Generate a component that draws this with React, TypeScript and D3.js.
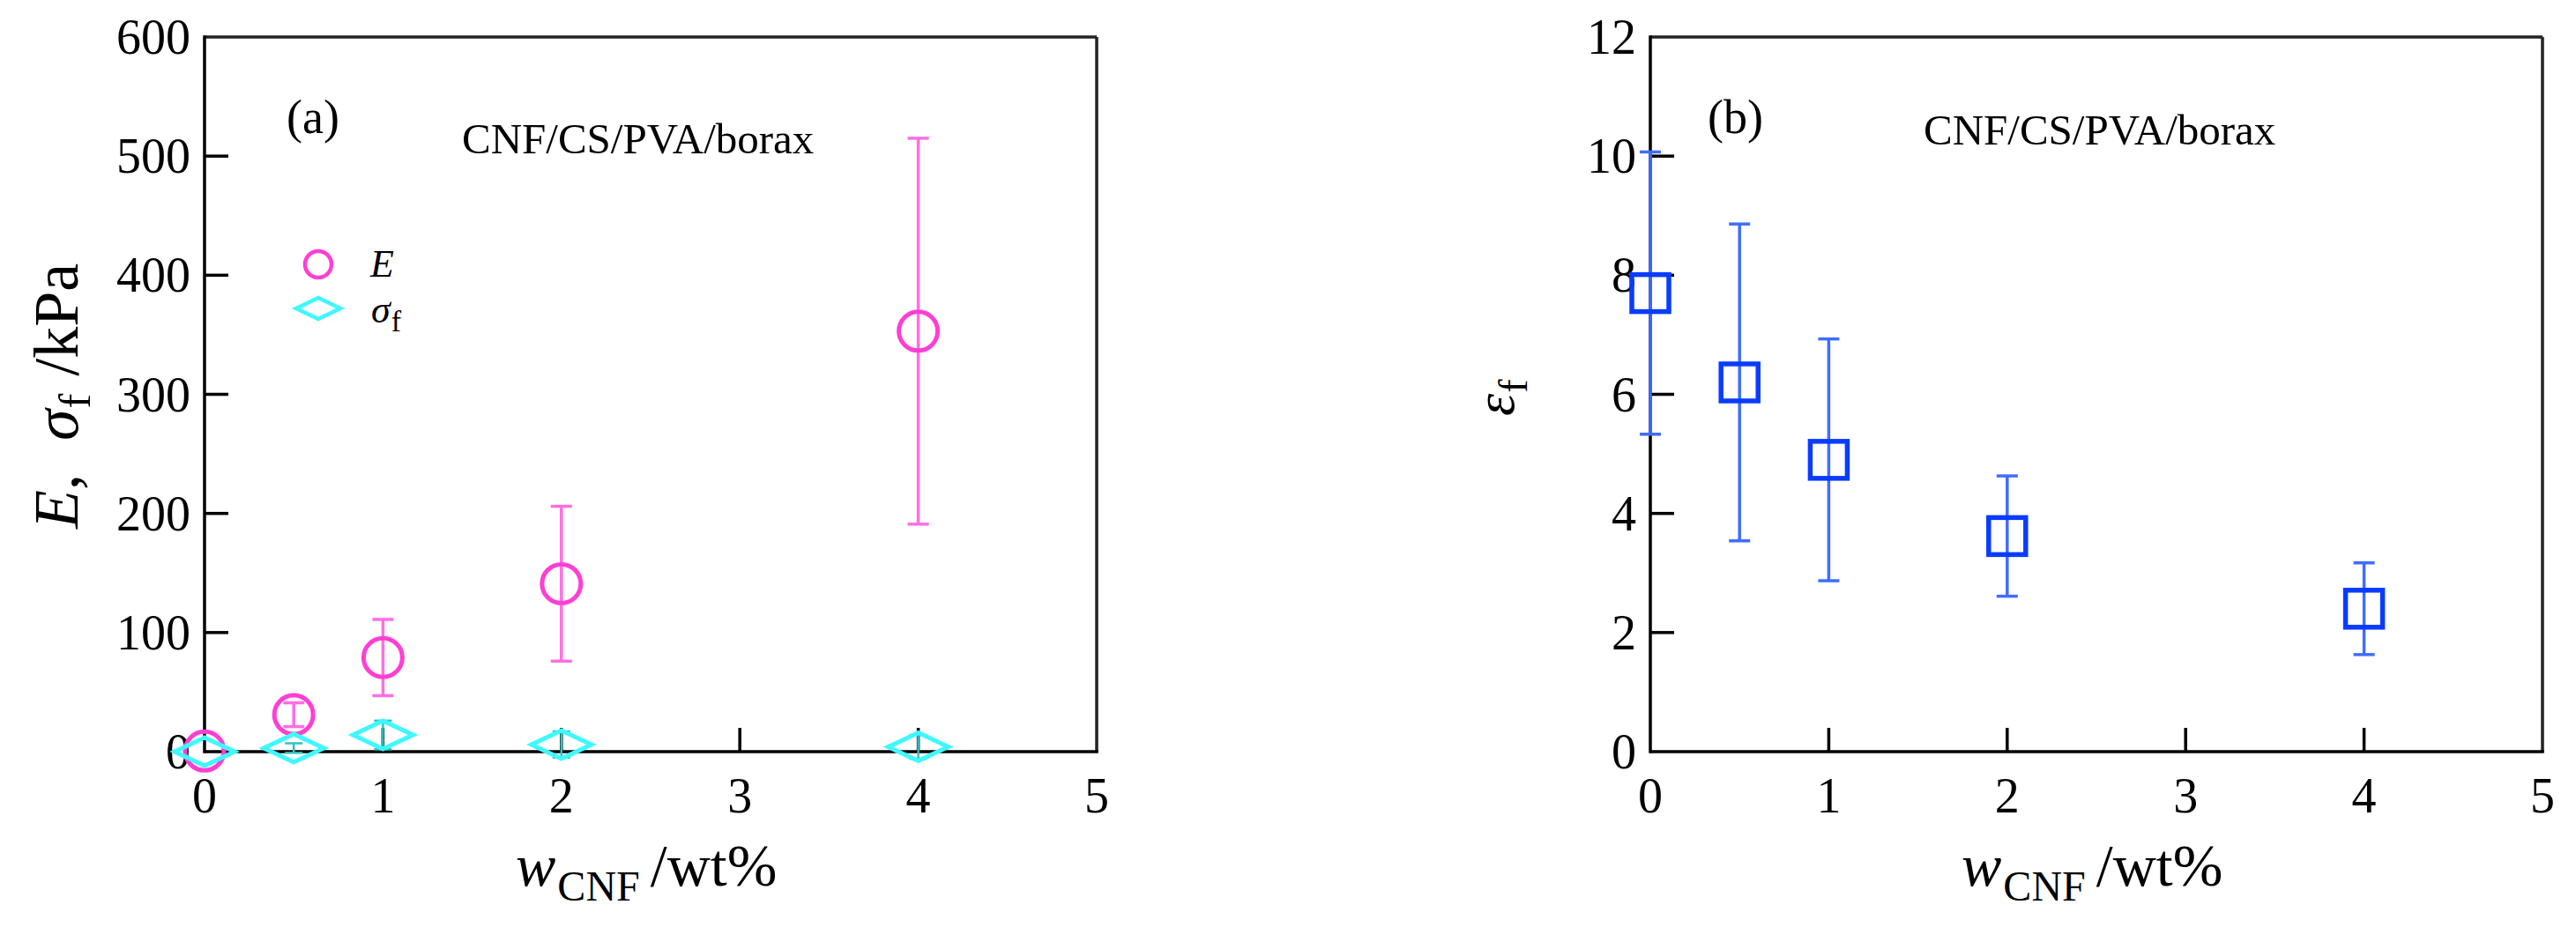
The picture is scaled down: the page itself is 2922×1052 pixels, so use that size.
import React from 'react';
import * as d3 from 'd3';

// ---------- data ----------
const wCNF = [0, 0.5, 1, 2, 4];
const E_kPa = [0.5, 31, 79, 141, 353];
const E_err = [0, 10, 32, 65, 162];
const sigmaF_kPa = [0, 3, 14, 6, 4];
const sigmaF_err = [0, 4, 12, 11, 10];
const epsF = [7.7, 6.2, 4.9, 3.62, 2.4];
const epsF_err = [2.37, 2.66, 2.03, 1.01, 0.77];
const xTicks = [0, 1, 2, 3, 4, 5];
const yTicksA = [0, 100, 200, 300, 400, 500, 600];
const yTicksB = [0, 2, 4, 6, 8, 10, 12];

// ---------- style ----------
const FONT = "'Liberation Serif', 'Times New Roman', serif";
const W = 2922;
const H = 1052;
const TOP = 42;
const BOTTOM = 853;
const C_E = '#ff3fd4';
const C_E_BAR = '#ff6ee2';
const C_S = '#3ff8ff';
const C_S_BAR = '#2cc4c4';
const C_B = '#0a3cff';
const C_B_BAR = '#3f6dff';

type Scale = d3.ScaleLinear<number, number>;

function Axes({ xs, ys, yTicks }: { xs: Scale; ys: Scale; yTicks: number[] }) {
  const [x0, x1] = xs.range();
  const yMin = yTicks[0];
  const yMax = yTicks[yTicks.length - 1];
  return (
    <g>
      <line x1={x0} x2={x1} y1={ys(yMax)} y2={ys(yMax)} stroke="#222" strokeWidth={3.5} />
      <line x1={x1} x2={x1} y1={ys(yMax)} y2={ys(yMin)} stroke="#222" strokeWidth={3.5} />
      <line x1={x0} x2={x0} y1={ys(yMax) - 1.75} y2={ys(yMin) + 1.75} stroke="#000" strokeWidth={3.5} />
      <line x1={x0} x2={x1 + 1.75} y1={ys(yMin)} y2={ys(yMin)} stroke="#000" strokeWidth={3.5} />
      {xTicks
        .filter((t) => t > xTicks[0] && t < xTicks[xTicks.length - 1])
        .map((t) => (
          <line key={'xt' + t} x1={xs(t)} x2={xs(t)} y1={ys(yMin)} y2={ys(yMin) - 27} stroke="#000" strokeWidth={3.5} />
        ))}
      {yTicks
        .filter((t) => t > yMin && t < yMax)
        .map((t) => (
          <line key={'yt' + t} x1={x0} x2={x0 + 27} y1={ys(t)} y2={ys(t)} stroke="#000" strokeWidth={3.5} />
        ))}
      {xTicks.map((t) => (
        <text key={'xl' + t} x={xs(t)} y={922} textAnchor="middle" fontSize={56} fontFamily={FONT} fill="#000">
          {t}
        </text>
      ))}
      {yTicks.map((t) => (
        <text key={'yl' + t} x={x0 - 16} y={ys(t) + 19} textAnchor="end" fontSize={56} fontFamily={FONT} fill="#000">
          {t}
        </text>
      ))}
    </g>
  );
}

function ErrBar({ x, y0, y1, color, w = 3.5, cap = 24 }: { x: number; y0: number; y1: number; color: string; w?: number; cap?: number }) {
  return (
    <g stroke={color} strokeWidth={w}>
      <line x1={x} x2={x} y1={y0} y2={y1} />
      <line x1={x - cap / 2} x2={x + cap / 2} y1={y0} y2={y0} />
      <line x1={x - cap / 2} x2={x + cap / 2} y1={y1} y2={y1} />
    </g>
  );
}

const diamond = (x: number, y: number, hw: number, hh: number) =>
  `M${x - hw},${y}L${x},${y - hh}L${x + hw},${y}L${x},${y + hh}Z`;

function XLabel({ x }: { x: number }) {
  return (
    <text x={x} y={1005} fontFamily={FONT} fontSize={68} fill="#000">
      <tspan fontStyle="italic">w</tspan>
      <tspan fontSize={48} dy={17} dx={2}>CNF</tspan>
      <tspan dy={-17} dx={12}>/wt%</tspan>
    </text>
  );
}

export default function App() {
  const xsA = d3.scaleLinear().domain([0, 5]).range([232, 1244]);
  const ysA = d3.scaleLinear().domain([0, 600]).range([BOTTOM, TOP]);
  const xsB = d3.scaleLinear().domain([0, 5]).range([1872, 2884]);
  const ysB = d3.scaleLinear().domain([0, 12]).range([BOTTOM, TOP]);

  return (
    <svg
      width={W}
      height={H}
      viewBox={`0 0 ${W} ${H}`}
      style={{ position: 'absolute', left: 0, top: 0, display: 'block', background: '#fff' }}
    >
      <rect x={0} y={0} width={W} height={H} fill="#fff" />

      {/* ---------- Panel (a) ---------- */}
      <Axes xs={xsA} ys={ysA} yTicks={yTicksA} />
      <text x={325} y={151} fontSize={54} fontFamily={FONT}>(a)</text>
      <text x={524} y={174} fontSize={49} fontFamily={FONT}>CNF/CS/PVA/borax</text>

      {/* legend */}
      <circle cx={361} cy={300} r={15} fill="none" stroke={C_E} strokeWidth={4.5} />
      <path d={diamond(361, 350, 25, 12)} fill="none" stroke={C_S} strokeWidth={4.5} />
      <text x={420} y={314} fontSize={44} fontFamily={FONT} fontStyle="italic">E</text>
      <text x={421} y={366} fontSize={44} fontFamily={FONT}>
        <tspan fontStyle="italic">σ</tspan>
        <tspan fontSize={34} dy={10} dx={1}>f</tspan>
      </text>

      {/* y label */}
      <text transform="translate(88,600) rotate(-90)" fontSize={72} fontFamily={FONT} fill="#000">
        <tspan fontStyle="italic">E</tspan>
        <tspan>,</tspan>
        <tspan fontStyle="italic" dx={38}>σ</tspan>
        <tspan fontSize={50} dy={14} dx={1}>f</tspan>
        <tspan dy={-14} dx={20}>/kPa</tspan>
      </text>
      <XLabel x={585} />

      {/* E error bars */}
      {wCNF.map((w, i) =>
        E_err[i] > 0 ? (
          <ErrBar key={'ee' + i} x={xsA(w)} y0={ysA(E_kPa[i] + E_err[i])} y1={ysA(E_kPa[i] - E_err[i])} color={C_E_BAR} />
        ) : null
      )}
      {/* sigma error bars */}
      {wCNF.map((w, i) =>
        sigmaF_err[i] > 0 ? (
          <ErrBar key={'se' + i} x={xsA(w)} y0={ysA(sigmaF_kPa[i] + sigmaF_err[i])} y1={ysA(sigmaF_kPa[i] - sigmaF_err[i])} color={C_S_BAR} w={2.5} cap={20} />
        ) : null
      )}
      {wCNF.map((w, i) => (
        <circle key={'ec' + i} cx={xsA(w)} cy={ysA(E_kPa[i])} r={22} fill="none" stroke={C_E} strokeWidth={5} />
      ))}
      {wCNF.map((w, i) => (
        <path key={'sd' + i} d={diamond(xsA(w), ysA(sigmaF_kPa[i]), 34, 16)} fill="none" stroke={C_S} strokeWidth={5} />
      ))}

      {/* ---------- Panel (b) ---------- */}
      <Axes xs={xsB} ys={ysB} yTicks={yTicksB} />
      <text x={1937} y={151} fontSize={54} fontFamily={FONT}>(b)</text>
      <text x={2182} y={164} fontSize={49} fontFamily={FONT}>CNF/CS/PVA/borax</text>

      <text transform="translate(1717,472) rotate(-90)" fontSize={64} fontFamily={FONT} fill="#000">
        <tspan fontStyle="italic">ε</tspan>
        <tspan fontSize={46} dy={15} dx={1}>f</tspan>
      </text>
      <XLabel x={2225} />

      {wCNF.map((w, i) => (
        <ErrBar key={'be' + i} x={xsB(w)} y0={ysB(epsF[i] + epsF_err[i])} y1={ysB(epsF[i] - epsF_err[i])} color={C_B_BAR} />
      ))}
      {wCNF.map((w, i) => (
        <rect key={'bs' + i} x={xsB(w) - 21} y={ysB(epsF[i]) - 21} width={42} height={42} fill="none" stroke={C_B} strokeWidth={5.5} />
      ))}
    </svg>
  );
}
